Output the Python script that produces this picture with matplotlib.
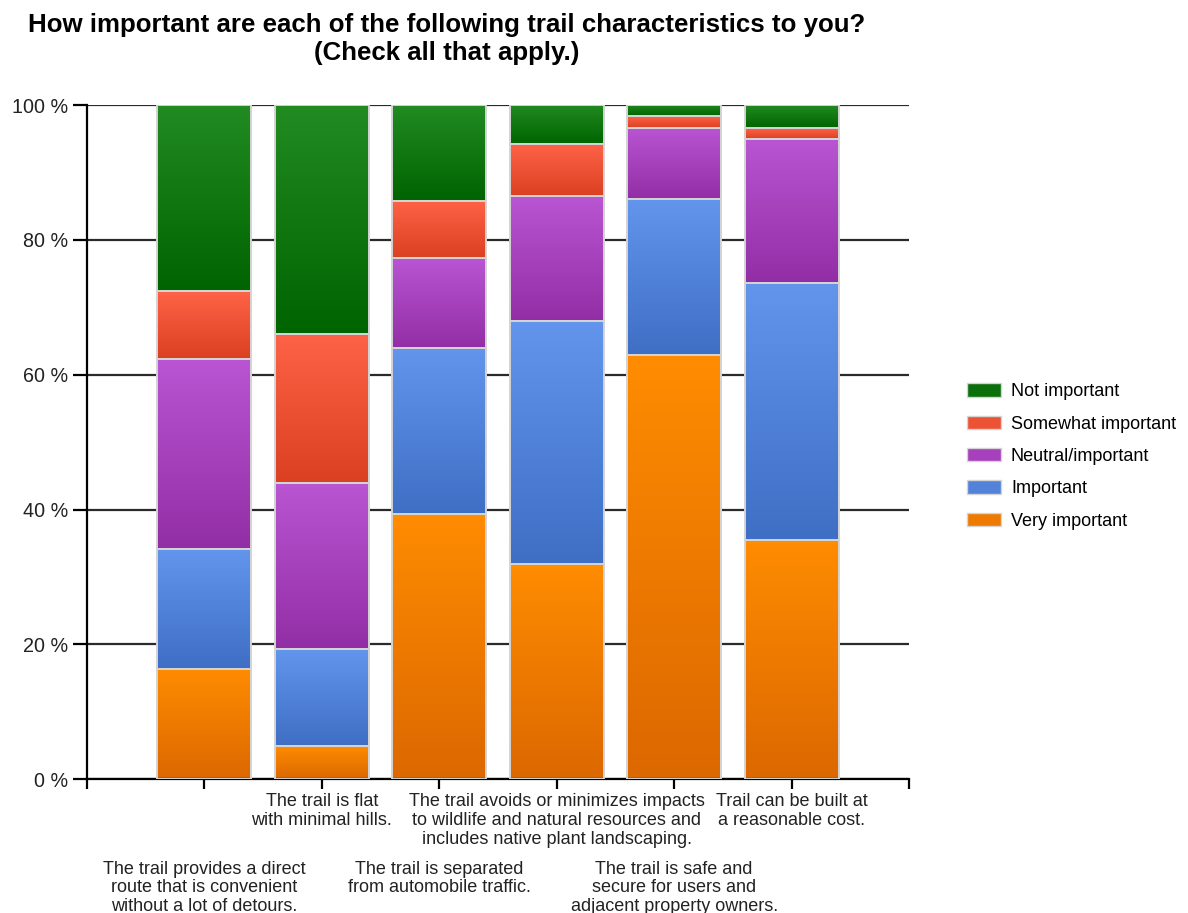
import numpy as np
import matplotlib.pyplot as plt
from matplotlib.colors import LinearSegmentedColormap
from matplotlib.patches import Patch

plt.rcParams["font.family"] = ["Liberation Sans", "DejaVu Sans"]

categories = [
    "The trail provides a direct\nroute that is convenient\nwithout a lot of detours.",
    "The trail is flat\nwith minimal hills.",
    "The trail is separated\nfrom automobile traffic.",
    "The trail avoids or minimizes impacts\nto wildlife and natural resources and\nincludes native plant landscaping.",
    "The trail is safe and\nsecure for users and\nadjacent property owners.",
    "Trail can be built at\na reasonable cost.",
]
levels = ["Very important", "Important", "Neutral/important",
          "Somewhat important", "Not important"]
very_important = [16.4, 5.0, 39.4, 31.9, 62.9, 35.5]
important = [17.7, 14.3, 24.5, 36.1, 23.1, 38.1]
neutral = [28.3, 24.7, 13.4, 18.5, 10.6, 21.4]
somewhat = [10.0, 22.1, 8.5, 7.7, 1.7, 1.6]
not_important = [27.6, 33.9, 14.2, 5.8, 1.7, 3.4]
series = [very_important, important, neutral, somewhat, not_important]

# (bottom, top) colours of each vertical gradient
shades = [
    ("#dc6800", "#ff8c00"),
    ("#3e6fc5", "#6495ed"),
    ("#922ea5", "#ba55d3"),
    ("#dc4022", "#ff6347"),
    ("#006400", "#228b22"),
]
legend_colors = ["#ee7a00", "#5282da", "#a640bd", "#ee5234", "#0b6f0b"]

fig = plt.figure(figsize=(11.88, 9.13), dpi=100)
ax = fig.add_axes([87 / 1188, 133.7 / 913, 822 / 1188, 674.3 / 913])

x = np.arange(1, len(categories) + 1)
grad = np.linspace(0, 1, 256).reshape(-1, 1)
bottom = np.zeros(len(categories))
for vals, (lo, hi) in zip(series, shades):
    cmap = LinearSegmentedColormap.from_list("g", [lo, hi])
    bars = ax.bar(x, vals, bottom=bottom, width=0.8, facecolor="none",
                  edgecolor="#d4d4d4", linewidth=1.4, zorder=3)
    for p in bars:
        x0, y0 = p.get_x(), p.get_y()
        ax.imshow(grad, cmap=cmap, origin="lower", aspect="auto", zorder=2,
                  extent=[x0, x0 + p.get_width(), y0, y0 + p.get_height()])
    bottom += np.array(vals)

ax.set_xlim(0, 7)
ax.set_ylim(0, 100)
ax.set_yticks(range(0, 101, 20))
ax.set_yticklabels([f"{v} %" for v in range(0, 101, 20)])
ax.yaxis.grid(True, color="#2a2a2a", linewidth=1.6, zorder=0)
ax.set_axisbelow(True)
ax.tick_params(axis="y", length=10, width=1.6, pad=3.5, labelsize=14.2,
               labelcolor="#222222")
ax.set_xticks(range(0, 8))
ax.set_xticklabels([])
ax.tick_params(axis="x", length=7.5, width=1.6, direction="out")
for s in ("top", "right"):
    ax.spines[s].set_visible(False)
for s in ("left", "bottom"):
    ax.spines[s].set_linewidth(1.6)

# staggered category labels under the ticks
for i, label in enumerate(categories):
    off = 10 if i % 2 else 58.5
    ax.annotate(label, xy=(x[i], 0), xycoords=("data", "axes fraction"),
                xytext=(0, -off), textcoords="offset points",
                ha="center", va="top", fontsize=13, color="#222222",
                linespacing=1.13)

handles = [Patch(facecolor=c, edgecolor="#d4d4d4") for c in legend_colors]
fig.legend(handles[::-1], levels[::-1], loc="center left",
           bbox_to_anchor=(0.8, 0.5), frameon=False, fontsize=13,
           handlelength=1.9, handleheight=0.75, handletextpad=0.55,
           labelspacing=0.85)

fig.text(0.376, 0.986,
         "How important are each of the following trail characteristics to you?\n(Check all that apply.)",
         ha="center", va="top", fontsize=18.6, fontweight="bold", linespacing=1.2)

fig.savefig("out.png", dpi=100)
